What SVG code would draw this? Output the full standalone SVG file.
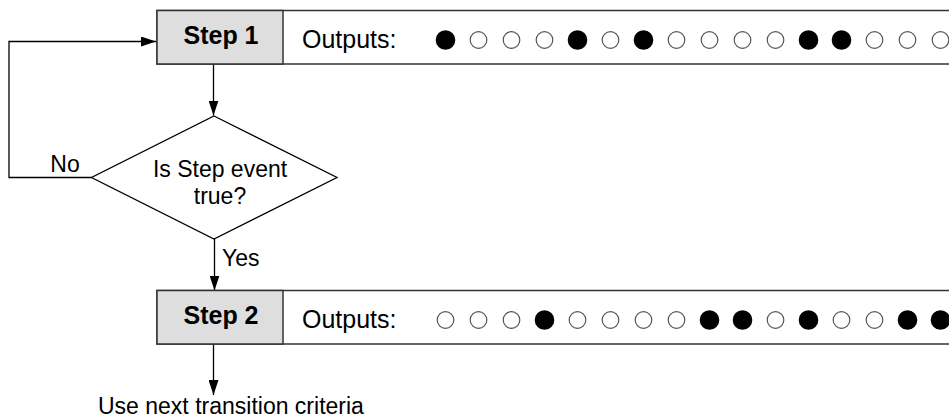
<svg xmlns="http://www.w3.org/2000/svg" width="949" height="419" viewBox="0 0 949 419">
<defs>
<style>
.box{fill:#ffffff;stroke:#333333;stroke-width:1.5}
.step{fill:#dedede;stroke:#333333;stroke-width:1.5}
.st{font-family:"Liberation Sans",Arial,sans-serif;font-size:25px;font-weight:bold;fill:#000;text-anchor:middle}
.out{font-family:"Liberation Sans",Arial,sans-serif;font-size:25px;fill:#000}
.lbl{font-family:"Liberation Sans",Arial,sans-serif;font-size:23px;fill:#000}
.on{fill:#000}
.off{fill:#fff;stroke:#555;stroke-width:1.2}
.ln{fill:none;stroke:#000;stroke-width:1.3}
.dm{fill:#fff;stroke:#000;stroke-width:1.3}
</style>
<marker id="ah" viewBox="0 0 15 10" refX="15" refY="5" markerWidth="15" markerHeight="10" markerUnits="userSpaceOnUse" orient="auto">
<path d="M0,0 L15,5 L0,10 Z" fill="#000"/>
</marker>
</defs>
<rect width="949" height="419" fill="#fff"/>
<g id="connectors">
<polyline class="ln" points="91.5,177.5 9,177.5 9,41.5 156,41.5" marker-end="url(#ah)"/>
<line class="ln" x1="213.5" y1="64" x2="213.5" y2="115.5" marker-end="url(#ah)"/>
<line class="ln" x1="214.5" y1="239" x2="214.5" y2="290.5" marker-end="url(#ah)"/>
<line class="ln" x1="213.5" y1="344" x2="213.5" y2="395" marker-end="url(#ah)"/>
<text class="lbl" x="65" y="172" text-anchor="middle">No</text>
<text class="lbl" x="222" y="266">Yes</text>
</g>
<g id="step1">
<rect class="box" x="157" y="10.5" width="800" height="53.5"/>
<rect class="step" x="157" y="10.5" width="126" height="53.5"/>
<text class="st" x="221" y="43.5">Step 1</text>
<text class="out" x="302" y="48">Outputs:</text>
<g>
<circle class="on" cx="445.5" cy="40" r="9.8"/>
<circle class="off" cx="478.5" cy="40" r="8.3"/>
<circle class="off" cx="511.5" cy="40" r="8.3"/>
<circle class="off" cx="544.5" cy="40" r="8.3"/>
<circle class="on" cx="577.5" cy="40" r="9.8"/>
<circle class="off" cx="610.5" cy="40" r="8.3"/>
<circle class="on" cx="643.5" cy="40" r="9.8"/>
<circle class="off" cx="676.5" cy="40" r="8.3"/>
<circle class="off" cx="709.5" cy="40" r="8.3"/>
<circle class="off" cx="742.5" cy="40" r="8.3"/>
<circle class="off" cx="775.5" cy="40" r="8.3"/>
<circle class="on" cx="808.5" cy="40" r="9.8"/>
<circle class="on" cx="841.5" cy="40" r="9.8"/>
<circle class="off" cx="874.5" cy="40" r="8.3"/>
<circle class="off" cx="907.5" cy="40" r="8.3"/>
<circle class="off" cx="940.5" cy="40" r="8.3"/>
</g>
</g>
<g id="decision">
<polygon class="dm" points="214,116 337,177.5 214,239 91.5,177.5"/>
<text class="lbl" x="220" y="177" text-anchor="middle">Is Step event</text>
<text class="lbl" x="220" y="204" text-anchor="middle">true?</text>
</g>
<g id="step2">
<rect class="box" x="157" y="290.5" width="800" height="53.5"/>
<rect class="step" x="157" y="290.5" width="126" height="53.5"/>
<text class="st" x="221" y="323.5">Step 2</text>
<text class="out" x="302" y="328">Outputs:</text>
<g>
<circle class="off" cx="445.5" cy="320" r="8.3"/>
<circle class="off" cx="478.5" cy="320" r="8.3"/>
<circle class="off" cx="511.5" cy="320" r="8.3"/>
<circle class="on" cx="544.5" cy="320" r="9.8"/>
<circle class="off" cx="577.5" cy="320" r="8.3"/>
<circle class="off" cx="610.5" cy="320" r="8.3"/>
<circle class="off" cx="643.5" cy="320" r="8.3"/>
<circle class="off" cx="676.5" cy="320" r="8.3"/>
<circle class="on" cx="709.5" cy="320" r="9.8"/>
<circle class="on" cx="742.5" cy="320" r="9.8"/>
<circle class="off" cx="775.5" cy="320" r="8.3"/>
<circle class="on" cx="808.5" cy="320" r="9.8"/>
<circle class="off" cx="841.5" cy="320" r="8.3"/>
<circle class="off" cx="874.5" cy="320" r="8.3"/>
<circle class="on" cx="907.5" cy="320" r="9.8"/>
<circle class="on" cx="940.5" cy="320" r="9.8"/>
</g>
</g>
<g id="next">
<text class="lbl" x="98" y="414">Use next transition criteria</text>
</g>
</svg>
